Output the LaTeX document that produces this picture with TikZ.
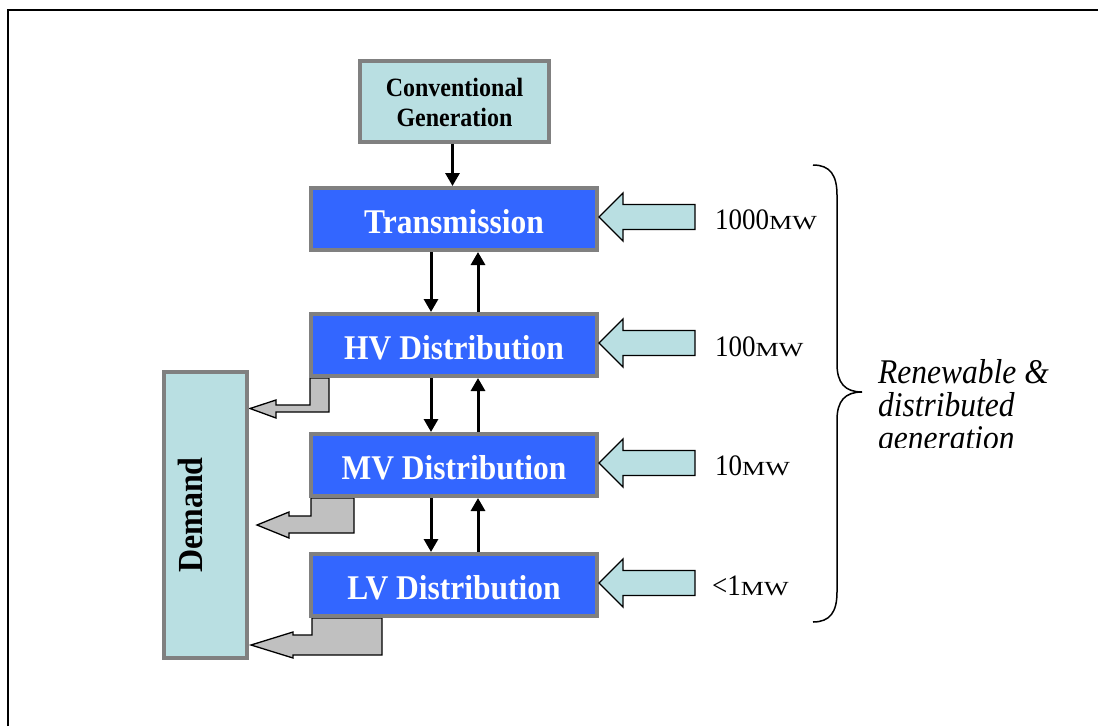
\documentclass[tikz,border=0pt]{standalone}
\usepackage{fontspec}
\setmainfont{Liberation Serif}
\usetikzlibrary{arrows.meta,backgrounds}
\definecolor{boxblue}{RGB}{51,102,255}
\definecolor{bordergray}{RGB}{128,128,128}
\definecolor{cyanfill}{RGB}{185,223,226}
\definecolor{arrowgray}{RGB}{192,192,192}
\newcommand{\vstretch}[1]{\scalebox{1}[1.1]{#1}}
\newcommand{\boxtext}[2]{\raisebox{-#1}[\height][\depth]{\vstretch{#2}}}
\newcommand{\mwunit}{\scalebox{1.3}[1]{\fontsize{20}{20}\selectfont MW}}
\begin{document}
\begin{tikzpicture}[x=1pt,y=-1pt,
  level/.style={draw=bordergray, line width=4pt, fill=boxblue, text=white,
    font=\fontsize{31.5}{34}\selectfont\bfseries, minimum width=286pt,
    minimum height=62pt, inner sep=0pt},
  lightbox/.style={draw=bordergray, line width=4pt, fill=cyanfill, text=black,
    inner sep=0pt},
  blk/.style={line width=3pt, -{Triangle[width=14pt,length=13pt]}},
  mwlabel/.style={anchor=base west, inner sep=0pt, font=\fontsize{27}{30}\selectfont},
  grayarrow/.style={draw=black, fill=arrowgray, line width=1.3pt, line join=miter},
  inarrow/.pic={\draw[fill=cyanfill, line width=1.3pt, line join=miter]
    (0,0) -- (24,-24) -- (24,-12.5) -- (96,-12.5) -- (96,12.5) -- (24,12.5) -- (24,24) -- cycle;}
]
\useasboundingbox (0,0) rectangle (1098,726);
% frame
\draw[line width=1.5pt] (8,726) -- (8,10) -- (1098,10);

% boxes
\node[lightbox, minimum width=189pt, minimum height=81pt,
  font=\fontsize{24}{27.3}\selectfont\bfseries] (conv) at (454.5,101.5)
  {\boxtext{4pt}{\begin{tabular}{@{}c@{}}Conventional\\Generation\end{tabular}}};
\node[level] (trans) at (454,219) {\boxtext{3pt}{Transmission}};
\node[level] (hv) at (454,345) {\boxtext{3pt}{HV Distribution}};
\node[level] (mv) at (454,465) {\boxtext{3pt}{MV Distribution}};
\node[level] (lv) at (454,585) {\boxtext{3pt}{LV Distribution}};
\node[lightbox, minimum width=83pt, minimum height=286pt] (demand) at (205.5,515) {};
\node[rotate=90, anchor=base, inner sep=0pt, font=\fontsize{32}{34}\selectfont\bfseries] (demandtext) at (202,515) {\vstretch{Demand}};

% gray bent arrows to demand
\begin{scope}[on background layer]
\draw[grayarrow] (310,378) -- (329,378) -- (329,412) -- (276,412) -- (276,418) -- (250,408.5) -- (276,400) -- (276,405) -- (310,405) -- cycle;
\draw[grayarrow] (311,498) -- (354,498) -- (354,533) -- (289,533) -- (289,538) -- (257,525) -- (289,512) -- (289,516) -- (311,516) -- cycle;
\draw[grayarrow] (312,618) -- (382,618) -- (382,655) -- (293,655) -- (293,658) -- (251,645) -- (293,632) -- (293,635) -- (312,635) -- cycle;
\end{scope}

% black arrows
\draw[blk] ([xshift=-2pt]conv.south) -- ([xshift=-2pt]conv.south |- trans.north);
\draw[blk] ([xshift=-23pt]trans.south) -- ([xshift=-23pt]hv.north);
\draw[blk] ([xshift=24pt]hv.north) -- ([xshift=24pt]trans.south);
\draw[blk] ([xshift=-23pt]hv.south) -- ([xshift=-23pt]mv.north);
\draw[blk] ([xshift=24pt]mv.north) -- ([xshift=24pt]hv.south);
\draw[blk] ([xshift=-23pt]mv.south) -- ([xshift=-23pt]lv.north);
\draw[blk] ([xshift=24pt]lv.north) -- ([xshift=24pt]mv.south);

% renewable input arrows
\pic at ([yshift=2pt]trans.east) {inarrow};
\pic at ([yshift=2pt]hv.east) {inarrow};
\pic at ([yshift=2pt]mv.east) {inarrow};
\pic at ([yshift=2pt]lv.east) {inarrow};

% labels
\node[mwlabel] (l1000) at (715,229) {\vstretch{1000}\mwunit};
\node[mwlabel] (l100) at (715,356) {\vstretch{100}\mwunit};
\node[mwlabel] (l10) at (715,475) {\vstretch{10}\mwunit};
\node[mwlabel] (l1) at (712,595) {\vstretch{<1}\mwunit};

% brace
\draw[line width=1.5pt] (813,165) .. controls (830,165) and (837,175) .. (837,195)
  -- (837,364) .. controls (837,383) and (845,392) .. (862,392)
  .. controls (845,392) and (837,401) .. (837,420)
  -- (837,592) .. controls (837,612) and (830,622) .. (813,622);

% renewable text (clipped as in the original)
\begin{scope}
\clip (860,330) rectangle (1098,447);
\node[anchor=base west, inner sep=0pt,
  font=\fontsize{31.5}{29.5}\selectfont\itshape] (renew) at (878,383)
  {\vstretch{\begin{tabular}[t]{@{}l@{}}Renewable \&\\distributed\\generation\end{tabular}}};
\end{scope}
\end{tikzpicture}
\end{document}
